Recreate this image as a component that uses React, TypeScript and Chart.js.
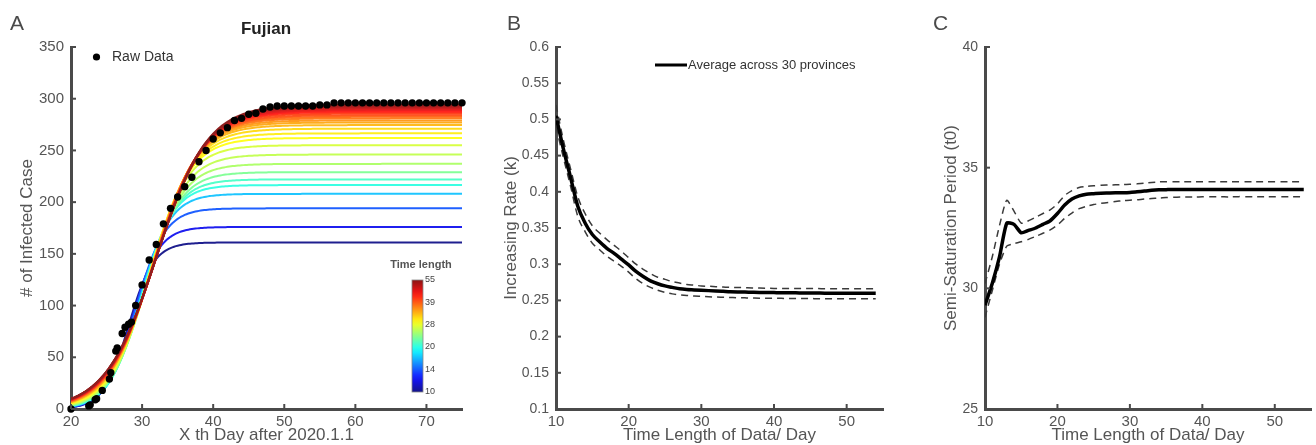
import React, { useEffect, useRef } from "react";
import { Chart, registerables } from "chart.js";

Chart.register(...registerables);

const FONT = "'Liberation Sans', Arial, Helvetica, sans-serif";
const AXIS_COLOR = "#4a4a4a";
const TEXT_COLOR = "#555555";

// ---------- Panel A: Fujian raw data ----------
const rawDay = [
  20, 22.5, 22.7, 23.4, 23.6, 24.4, 25.4, 25.6, 26.3, 26.5, 27.2, 27.6, 28.1, 28.5, 29.1,
  30, 31, 32, 33, 34, 35, 36, 37, 38, 39, 40, 41, 42, 43, 44, 45, 46, 47, 48, 49,
  50, 51, 52, 53, 54, 55, 56, 57, 58, 59, 60, 61, 62, 63, 64, 65, 66, 67, 68, 69,
  70, 71, 72, 73, 74, 75,
];
const rawCases = [
  0, 3, 4, 9, 10, 18, 29, 35, 56, 59, 73, 79, 82, 84, 100,
  120, 144, 159, 179, 194, 205, 215, 224, 239, 250, 261, 267, 272, 279, 281, 285, 286, 290, 292, 293,
  293, 293, 293, 293, 293, 294, 294, 296, 296, 296, 296, 296, 296, 296, 296, 296, 296, 296, 296, 296,
  296, 296, 296, 296, 296, 296,
];

// fitted logistic curves (one per time length): plateau, rate, midpoint
const fitLength = [10, 12, 14, 17, 20, 21, 23, 25, 26, 27, 29, 30, 31, 33, 34, 35, 37, 38, 40, 41, 43, 44, 46, 47, 49, 50, 52, 53, 55];
const fitPlateau = [161, 176, 194, 208, 216.5, 222, 229, 237, 246, 255, 262, 266.5, 271, 274.5, 277, 279, 281, 282.5, 284, 285.5, 287, 288, 289, 290, 291, 292, 292.8, 293.5, 294.5];
const fitRate = [0.57, 0.53, 0.49, 0.46, 0.44, 0.42, 0.4, 0.385, 0.37, 0.36, 0.35, 0.34, 0.33, 0.325, 0.32, 0.315, 0.31, 0.305, 0.3, 0.3, 0.295, 0.29, 0.29, 0.285, 0.285, 0.285, 0.28, 0.28, 0.28];
const fitMid = [28.1, 28.6, 29.1, 29.6, 29.9, 30.1, 30.35, 30.55, 30.75, 30.9, 31.05, 31.2, 31.3, 31.4, 31.5, 31.55, 31.6, 31.65, 31.7, 31.75, 31.8, 31.85, 31.9, 31.9, 31.95, 31.95, 32.0, 32.0, 32.0];
const colorbarTicks = [10, 14, 20, 28, 39, 55];

// ---------- Panels B & C ----------
const lengthDays = [
  10, 11, 12, 13, 14, 15, 16, 17, 18, 19, 20, 21, 22, 23, 24, 25, 26, 27, 28, 29,
  30, 31, 32, 33, 34, 35, 36, 37, 38, 39, 40, 41, 42, 43, 44, 45, 46, 47, 48, 49,
  50, 51, 52, 53, 54,
];
const rateMean = [
  0.505, 0.46, 0.42, 0.38, 0.357, 0.341, 0.331, 0.322, 0.315, 0.307,
  0.299, 0.29, 0.283, 0.277, 0.273, 0.27, 0.268, 0.266, 0.265, 0.2645,
  0.264, 0.2635, 0.263, 0.2625, 0.262, 0.2617, 0.2615, 0.2612, 0.261, 0.261,
  0.2608, 0.2606, 0.2605, 0.2604, 0.2603, 0.2602, 0.2601, 0.26, 0.26, 0.26,
  0.26, 0.26, 0.26, 0.26, 0.26,
];
const rateUpper = [
  0.52, 0.472, 0.432, 0.393, 0.37, 0.353, 0.343, 0.334, 0.326, 0.318,
  0.309, 0.3, 0.293, 0.287, 0.282, 0.279, 0.276, 0.274, 0.272, 0.271,
  0.27, 0.2695, 0.269, 0.2685, 0.268, 0.2678, 0.2675, 0.2672, 0.267, 0.2668,
  0.2666, 0.2665, 0.2665, 0.2664, 0.2664, 0.2663, 0.2663, 0.2662, 0.2662, 0.2662,
  0.2661, 0.2661, 0.2661, 0.2661, 0.2661,
];
const rateLower = [
  0.49, 0.448, 0.408, 0.366, 0.345, 0.329, 0.32, 0.311, 0.304, 0.297,
  0.289, 0.28, 0.273, 0.268, 0.264, 0.261, 0.259, 0.2578, 0.2568, 0.256,
  0.2555, 0.255, 0.2546, 0.2543, 0.254, 0.2537, 0.2535, 0.2533, 0.2531, 0.253,
  0.2529, 0.2528, 0.2527, 0.2526, 0.2525, 0.2525, 0.2524, 0.2524, 0.2523, 0.2523,
  0.2522, 0.2522, 0.2522, 0.2522, 0.2522,
];
const t0Mean = [
  29.3, 30.2, 31.3, 32.7, 32.65, 32.3, 32.4, 32.5, 32.65, 32.8,
  33.1, 33.45, 33.7, 33.83, 33.9, 33.92, 33.94, 33.95, 33.96, 33.96,
  33.97, 34.0, 34.03, 34.06, 34.08, 34.09, 34.1, 34.1, 34.1, 34.1,
  34.1, 34.1, 34.1, 34.1, 34.1, 34.1, 34.1, 34.1, 34.1, 34.1,
  34.1, 34.1, 34.1, 34.1, 34.1,
];
const t0Upper = [
  30.2, 31.3, 32.6, 33.65, 33.2, 32.7, 32.8, 32.95, 33.1, 33.25,
  33.5, 33.85, 34.05, 34.18, 34.22, 34.25, 34.27, 34.28, 34.29, 34.3,
  34.31, 34.33, 34.36, 34.39, 34.41, 34.42, 34.42, 34.42, 34.42, 34.42,
  34.42, 34.42, 34.42, 34.42, 34.42, 34.42, 34.42, 34.42, 34.42, 34.42,
  34.42, 34.42, 34.42, 34.42, 34.42,
];
const t0Lower = [
  28.8, 29.9, 31.0, 31.75, 31.85, 31.93, 32.03, 32.15, 32.28, 32.42,
  32.62, 32.9, 33.12, 33.3, 33.4, 33.47, 33.52, 33.56, 33.6, 33.63,
  33.65, 33.67, 33.7, 33.72, 33.74, 33.76, 33.77, 33.78, 33.78, 33.78,
  33.79, 33.79, 33.79, 33.79, 33.79, 33.8, 33.8, 33.8, 33.8, 33.8,
  33.8, 33.8, 33.8, 33.8, 33.8,
];

// ---------- helpers ----------
function jet(p: number, wash = 0): string {
  const c = (v: number) => {
    const x = Math.max(0, Math.min(1, v));
    return Math.round(255 * (x * (1 - wash) + wash));
  };
  return `rgb(${c(1.5 - Math.abs(4 * p - 3))},${c(1.5 - Math.abs(4 * p - 2))},${c(1.5 - Math.abs(4 * p - 1))})`;
}
function logPos(t: number): number {
  return Math.log(t / 10) / Math.log(55 / 10);
}

const inwardTicks = {
  id: "inwardTicks",
  afterDraw(chart: any) {
    const { ctx, chartArea, scales } = chart;
    ctx.save();
    ctx.strokeStyle = AXIS_COLOR;
    ctx.lineWidth = 2;
    scales.x.ticks.forEach((t: any) => {
      const px = scales.x.getPixelForValue(t.value);
      ctx.beginPath();
      ctx.moveTo(px, chartArea.bottom);
      ctx.lineTo(px, chartArea.bottom - 5);
      ctx.stroke();
    });
    scales.y.ticks.forEach((t: any) => {
      const py = scales.y.getPixelForValue(t.value);
      ctx.beginPath();
      ctx.moveTo(chartArea.left, py);
      ctx.lineTo(chartArea.left + 5, py);
      ctx.stroke();
    });
    ctx.restore();
  },
};

function xScale(min: number, max: number, step: number, title: string, size: number) {
  return {
    type: "linear",
    min,
    max,
    ticks: { stepSize: step, includeBounds: false, color: TEXT_COLOR, font: { family: FONT, size }, padding: 4, maxRotation: 0, autoSkip: false },
    grid: { display: false, drawTicks: false },
    border: { display: true, color: AXIS_COLOR, width: 3 },
    title: { display: true, text: title, color: TEXT_COLOR, font: { family: FONT, size: 17 }, padding: { top: 0, bottom: -1 } },
    afterFit: (s: any) => {
      s.height = 36;
    },
  };
}
function yScale(min: number, max: number, step: number, title: string, size: number, width: number, titlePad: number, fmt?: (v: number) => string) {
  return {
    type: "linear",
    min,
    max,
    ticks: {
      stepSize: step,
      includeBounds: false,
      color: TEXT_COLOR,
      font: { family: FONT, size },
      padding: 7,
      autoSkip: false,
      ...(fmt ? { callback: (v: any) => fmt(Number(v)) } : {}),
    },
    grid: { display: false, drawTicks: false },
    border: { display: true, color: AXIS_COLOR, width: 3 },
    title: { display: true, text: title, color: TEXT_COLOR, font: { family: FONT, size: 17 }, padding: { top: titlePad, bottom: 0 } },
    afterFit: (s: any) => {
      s.width = width;
    },
  };
}

const baseOptions = {
  responsive: false,
  animation: false,
  events: [],
  plugins: { legend: { display: false }, tooltip: { enabled: false }, title: { display: false } },
};

function letter(ctx: any, text: string, x: number) {
  ctx.save();
  ctx.font = `21px ${FONT}`;
  ctx.fillStyle = "#4a4a4a";
  ctx.textBaseline = "alphabetic";
  ctx.textAlign = "left";
  ctx.fillText(text, x, 30);
  ctx.restore();
}

export default function App() {
  const refA = useRef<HTMLCanvasElement>(null);
  const refB = useRef<HTMLCanvasElement>(null);
  const refC = useRef<HTMLCanvasElement>(null);

  useEffect(() => {
    document.body.style.margin = "0";

    // ----- Panel A -----
    const curveSets = fitLength.map((t, i) => {
      const pts: { x: number; y: number }[] = [];
      for (let d = 20; d <= 75.001; d += 0.25) {
        pts.push({ x: d, y: fitPlateau[i] / (1 + Math.exp(-fitRate[i] * (d - fitMid[i]))) });
      }
      return {
        data: pts,
        borderColor: jet(logPos(t), 0.12),
        borderWidth: 2,
        pointRadius: 0,
        fill: false,
        tension: 0,
      };
    });
    curveSets.reverse();

    const decorA = {
      id: "decorA",
      afterDraw(chart: any) {
        const ctx = chart.ctx;
        letter(ctx, "A", 10);
        ctx.save();
        // title
        ctx.font = `bold 17px ${FONT}`;
        ctx.fillStyle = "#222";
        ctx.textAlign = "center";
        ctx.textBaseline = "middle";
        ctx.fillText("Fujian", 266, 29);
        // legend
        ctx.beginPath();
        ctx.fillStyle = "#000";
        ctx.arc(96.5, 57, 3.6, 0, Math.PI * 2);
        ctx.fill();
        ctx.font = `14px ${FONT}`;
        ctx.fillStyle = "#333";
        ctx.textAlign = "left";
        ctx.fillText("Raw Data", 112, 57);
        // colorbar
        const bx = 412, bw = 11, top = 280, bottom = 392;
        const grad = ctx.createLinearGradient(0, bottom, 0, top);
        for (let i = 0; i <= 20; i++) grad.addColorStop(i / 20, jet(i / 20, 0.08));
        ctx.fillStyle = grad;
        ctx.fillRect(bx, top, bw, bottom - top);
        ctx.strokeStyle = "#888";
        ctx.lineWidth = 0.8;
        ctx.strokeRect(bx, top, bw, bottom - top);
        ctx.font = `9px ${FONT}`;
        ctx.fillStyle = "#444";
        ctx.textAlign = "left";
        colorbarTicks.forEach((t) => {
          const y = bottom - logPos(t) * (bottom - top);
          ctx.fillText(String(t), bx + bw + 2, y);
        });
        ctx.font = `bold 11px ${FONT}`;
        ctx.fillStyle = "#555";
        ctx.textAlign = "center";
        ctx.fillText("Time length", 421, 265);
        ctx.restore();
      },
    };

    const chartA = new Chart(refA.current as HTMLCanvasElement, {
      type: "line",
      data: {
        datasets: [
          {
            data: rawDay.map((d, i) => ({ x: d, y: rawCases[i] })),
            showLine: false,
            pointRadius: 3.7,
            pointBackgroundColor: "#000",
            pointBorderWidth: 0,
            borderColor: "#000",
            clip: false,
          },
          ...curveSets,
        ],
      },
      options: {
        ...baseOptions,
        layout: { padding: { top: 47, right: 8, left: 0, bottom: 0 } },
        scales: {
          x: xScale(20, 75, 10, "X th Day after 2020.1.1", 15),
          y: yScale(0, 350, 50, "# of Infected Case", 15, 71, 17),
        },
      },
      plugins: [inwardTicks, decorA],
    } as any);

    // ----- Panel B -----
    const decorB = {
      id: "decorB",
      afterDraw(chart: any) {
        const ctx = chart.ctx;
        letter(ctx, "B", 37);
        ctx.save();
        ctx.strokeStyle = "#000";
        ctx.lineWidth = 3;
        ctx.beginPath();
        ctx.moveTo(185, 65);
        ctx.lineTo(217, 65);
        ctx.stroke();
        ctx.font = `13px ${FONT}`;
        ctx.fillStyle = "#333";
        ctx.textAlign = "left";
        ctx.textBaseline = "middle";
        ctx.fillText("Average across 30 provinces", 218, 65);
        ctx.restore();
      },
    };
    const dashed = { borderColor: "#3a3a3a", borderWidth: 1.5, borderDash: [7, 5], pointRadius: 0, fill: false };
    const chartB = new Chart(refB.current as HTMLCanvasElement, {
      type: "line",
      data: {
        datasets: [
          { data: lengthDays.map((d, i) => ({ x: d, y: rateMean[i] })), borderColor: "#000", borderWidth: 3.5, pointRadius: 0, cubicInterpolationMode: "monotone" },
          { data: lengthDays.map((d, i) => ({ x: d, y: rateUpper[i] })), ...dashed, cubicInterpolationMode: "monotone" },
          { data: lengthDays.map((d, i) => ({ x: d, y: rateLower[i] })), ...dashed, cubicInterpolationMode: "monotone" },
        ],
      },
      options: {
        ...baseOptions,
        layout: { padding: { top: 47, right: 7, left: 0, bottom: 0 } },
        scales: {
          x: xScale(10, 55, 10, "Time Length of Data/ Day", 15),
          y: yScale(0.1, 0.6, 0.05, "Increasing Rate (k)", 14, 86, 31.5, (v) => String(Number(v.toFixed(2)))),
        },
      },
      plugins: [inwardTicks, decorB],
    } as any);

    // ----- Panel C -----
    const decorC = {
      id: "decorC",
      afterDraw(chart: any) {
        letter(chart.ctx, "C", 43);
      },
    };
    const chartC = new Chart(refC.current as HTMLCanvasElement, {
      type: "line",
      data: {
        datasets: [
          { data: lengthDays.map((d, i) => ({ x: d, y: t0Mean[i] })), borderColor: "#000", borderWidth: 3.5, pointRadius: 0, tension: 0.2 },
          { data: lengthDays.map((d, i) => ({ x: d, y: t0Upper[i] })), ...dashed, tension: 0.2 },
          { data: lengthDays.map((d, i) => ({ x: d, y: t0Lower[i] })), ...dashed, tension: 0.2 },
        ],
      },
      options: {
        ...baseOptions,
        layout: { padding: { top: 47, right: 5, left: 0, bottom: 0 } },
        scales: {
          x: xScale(10, 55, 10, "Time Length of Data/ Day", 15),
          y: yScale(25, 40, 5, "Semi-Saturation Period (t0)", 14, 95, 51.5),
        },
      },
      plugins: [inwardTicks, decorC],
    } as any);

    return () => {
      chartA.destroy();
      chartB.destroy();
      chartC.destroy();
    };
  }, []);

  return (
    <div style={{ position: "relative", width: 1316, height: 445, background: "#fff", overflow: "hidden" }}>
      <canvas ref={refA} width={470} height={445} style={{ position: "absolute", left: 0, top: 0 }} />
      <canvas ref={refB} width={420} height={445} style={{ position: "absolute", left: 470, top: 0 }} />
      <canvas ref={refC} width={426} height={445} style={{ position: "absolute", left: 890, top: 0 }} />
    </div>
  );
}
